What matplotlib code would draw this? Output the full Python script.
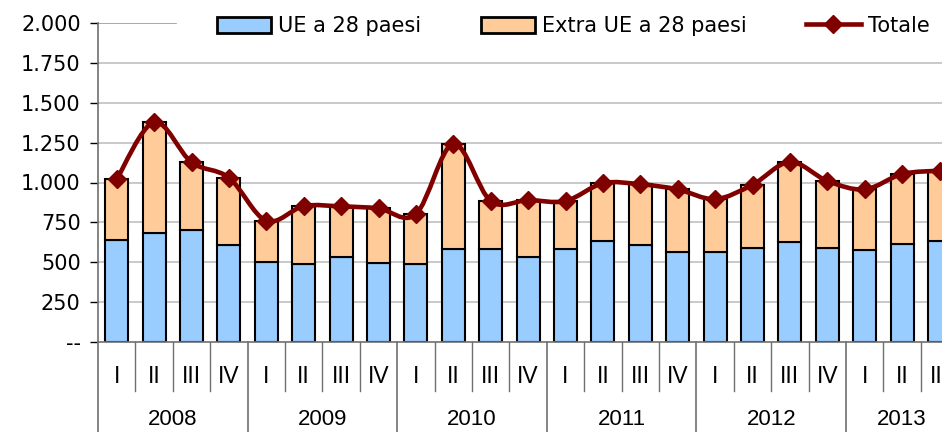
import matplotlib
matplotlib.use("Agg")
import matplotlib.pyplot as plt
import numpy as np
from matplotlib.path import Path
from matplotlib.patches import PathPatch, Patch
from matplotlib.lines import Line2D
import matplotlib.transforms as mtransforms

# ---- data ----
years = ["2008", "2009", "2010", "2011", "2012", "2013"]
quarters_per_year = [4, 4, 4, 4, 4, 3]
quarter_names = ["I", "II", "III", "IV"]
ue = [639, 681, 702, 607, 503, 488, 534, 496, 488, 582, 582, 534,
      582, 633, 607, 566, 566, 591, 628, 587, 576, 612, 633]
totale = [1020, 1378, 1127, 1030, 760, 852, 850, 838, 802, 1242, 884, 890,
          884, 995, 989, 957, 896, 986, 1129, 1010, 957, 1053, 1074]
extra = [t - u for t, u in zip(totale, ue)]
ytick_vals = [0, 250, 500, 750, 1000, 1250, 1500, 1750, 2000]
ytick_labels = ["--", "250", "500", "750", "1.000", "1.250", "1.500", "1.750", "2.000"]
series_names = ["UE a 28 paesi", "Extra UE a 28 paesi", "Totale"]

c_ue = "#99CCFF"
c_extra = "#FFCC99"
c_tot = "#800000"

plt.rcParams["font.family"] = ["DejaVu Sans"]

W, H = 942, 432
fig = plt.figure(figsize=(W / 100, H / 100), dpi=100)
n = len(ue)
step_px = 37.4
ax = fig.add_axes([98 / W, (H - 342) / H, n * step_px / W, (342 - 23) / H])

x = np.arange(n)
ax.bar(x, ue, width=0.62, color=c_ue, edgecolor="black", linewidth=1.5, zorder=2)
ax.bar(x, extra, bottom=ue, width=0.62, color=c_extra, edgecolor="black", linewidth=1.5, zorder=2)

# smoothed line (Catmull-Rom rendered as cubic Bezier)
pts = np.column_stack([x, totale]).astype(float)
verts = [tuple(pts[0])]
codes = [Path.MOVETO]
for i in range(n - 1):
    p0 = pts[i - 1] if i > 0 else pts[i]
    p1 = pts[i]
    p2 = pts[i + 1]
    p3 = pts[i + 2] if i + 2 < n else pts[i + 1]
    c1 = p1 + (p2 - p0) / 6.0
    c2 = p2 - (p3 - p1) / 6.0
    verts += [tuple(c1), tuple(c2), tuple(p2)]
    codes += [Path.CURVE4] * 3
ax.add_patch(PathPatch(Path(verts, codes), facecolor="none", edgecolor=c_tot,
                       linewidth=3.3, zorder=3, capstyle="round", joinstyle="round"))
ax.plot(x, totale, linestyle="none", marker="D", markersize=9.5, color=c_tot, zorder=4)

ax.set_xlim(-0.5, n - 0.5)
ax.set_ylim(0, 2000)

# gridlines
for v in ytick_vals[1:-1]:
    ax.axhline(v, color="#c0c0c0", linewidth=1.2, zorder=0)
ax.axhline(2000, xmin=0, xmax=(175.6 - 98) / (n * step_px), color="#999999", linewidth=1.2, zorder=0)

ax.set_yticks(ytick_vals)
ax.set_yticklabels(ytick_labels, fontsize=15)
ax.tick_params(axis="y", direction="out", length=6, width=1, color="black", pad=6.5)
ax.set_xticks([])

for s in ["top", "right"]:
    ax.spines[s].set_visible(False)
ax.spines["left"].set_color("#707070")
ax.spines["bottom"].set_color("#707070")
ax.spines["left"].set_linewidth(1.2)
ax.spines["bottom"].set_linewidth(1.2)

# category axis: quarters and years
trans = mtransforms.blended_transform_factory(ax.transData, ax.transAxes)
q_bottom = -49 / 319
y_bottom = -0.32
cat_font = dict(fontsize=16.5, family=["Liberation Sans", "DejaVu Sans"])
idx = 0
for yr, nq in zip(years, quarters_per_year):
    start = idx
    ax.plot([start - 0.5, start - 0.5], [0, y_bottom], transform=trans, color="#707070",
            linewidth=1.2, clip_on=False)
    for q in range(nq):
        ax.text(idx, -34.7 / 319, quarter_names[q], transform=trans, ha="center", va="center",
                **cat_font)
        if q > 0:
            ax.plot([idx - 0.5, idx - 0.5], [0, q_bottom], transform=trans, color="#707070",
                    linewidth=1.0, clip_on=False)
        idx += 1
    ax.text((start + idx - 1) / 2, -77.5 / 319, yr, transform=trans, ha="center", va="center",
            fontsize=16, family=["Liberation Sans", "DejaVu Sans"])

# legend
handles = [
    Patch(facecolor=c_ue, edgecolor="black", linewidth=2),
    Patch(facecolor=c_extra, edgecolor="black", linewidth=2),
    Line2D([], [], color=c_tot, linewidth=3.3, marker="D", markersize=9.5),
]
fig.legend(handles, series_names, loc="center left", bbox_to_anchor=(198.5 / W, 1 - 26 / H),
           ncol=3, frameon=False, fontsize=15, handlelength=2.6, handleheight=0.8,
           handletextpad=0.34, columnspacing=2.85, numpoints=1, borderpad=0.4)

fig.savefig("out.png", dpi=100)
